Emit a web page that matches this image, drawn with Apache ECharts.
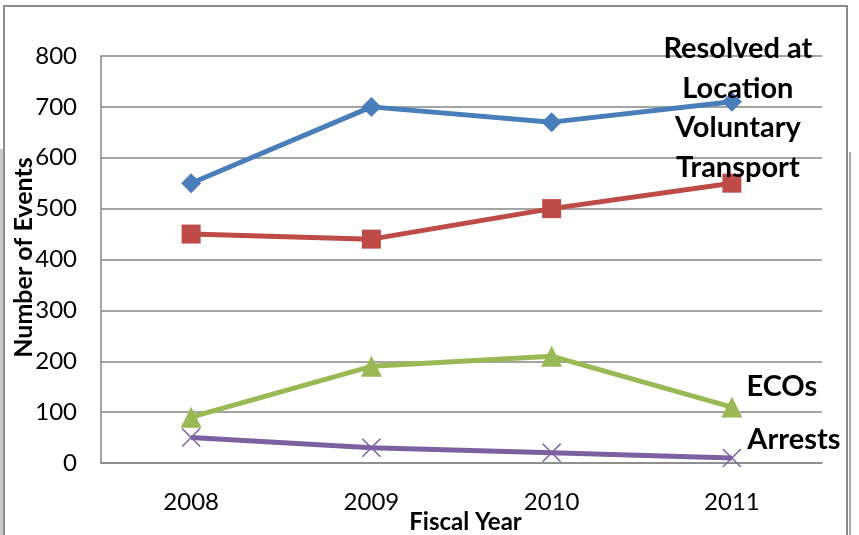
<!DOCTYPE html>
<html>
<head>
<meta charset="utf-8">
<script src="https://cdn.jsdelivr.net/npm/echarts@6/dist/echarts.min.js"></script>
<style>
html,body{margin:0;padding:0;background:#fff;}
#main{width:859px;height:535px;}
</style>
</head>
<body>
<div id="main"></div>
<script>
const categories = ['2008', '2009', '2010', '2011'];
const resolvedAtLocation = [550, 700, 670, 710];
const voluntaryTransport = [450, 440, 500, 550];
const ecos = [90, 190, 210, 110];
const arrests = [50, 30, 20, 10];
const seriesNames = ['Resolved at\nLocation', 'Voluntary\nTransport', 'ECOs', 'Arrests'];
const yTicks = [0, 100, 200, 300, 400, 500, 600, 700, 800];

const FONT = 'Lato';
const labelStyle = {fontFamily: FONT, fontWeight: 'bold', fontSize: 29, color: '#000', lineHeight: 40, align: 'center', verticalAlign: 'middle'};

function withEndLabel(values, text, offset) {
  return values.map((v, i) => {
    if (i !== values.length - 1) return v;
    return {value: v, label: Object.assign({show: true, position: 'inside', offset: offset, formatter: text}, labelStyle)};
  });
}

const chart = echarts.init(document.getElementById('main'), null, {renderer: 'canvas'});
chart.setOption({
  animation: false,
  backgroundColor: '#fff',
  graphic: [
    {type: 'rect', shape: {x: 0, y: 149, width: 4, height: 400}, style: {fill: '#c8c8c8'}, z: 0},
    {type: 'rect', shape: {x: 4, y: 6, width: 843, height: 560}, style: {fill: 'none', stroke: '#8c8c8c', lineWidth: 2}, z: 0},
    {type: 'line', shape: {x1: 850, y1: 152, x2: 850, y2: 540}, style: {stroke: '#a8a8a8', lineWidth: 2}, z: 0}
  ],
  grid: {left: 101, right: 37, top: 56, bottom: 72, containLabel: false, outerBoundsMode: 'none'},
  xAxis: {
    type: 'category',
    data: categories,
    boundaryGap: true,
    axisLine: {show: true, lineStyle: {color: '#868686', width: 1.5}},
    axisTick: {show: false},
    axisLabel: {fontFamily: FONT, fontSize: 24, color: '#000', margin: 27},
    name: 'Fiscal Year',
    nameLocation: 'middle',
    nameGap: 47,
    nameMoveOverlap: false,
    nameTextStyle: {fontFamily: FONT, fontWeight: 'bold', fontSize: 24, color: '#000', padding: [0, 0, 0, 8]}
  },
  yAxis: {
    type: 'value',
    min: yTicks[0],
    max: yTicks[yTicks.length - 1],
    interval: 100,
    axisLine: {show: true, lineStyle: {color: '#868686', width: 1.5}},
    axisTick: {show: false},
    splitLine: {show: true, lineStyle: {color: '#868686', width: 1.5}},
    axisLabel: {fontFamily: FONT, fontSize: 24, color: '#000', margin: 24},
    name: 'Number of Events',
    nameLocation: 'middle',
    nameGap: 65,
    nameMoveOverlap: false,
    nameRotate: 90,
    nameTextStyle: {fontFamily: FONT, fontWeight: 'bold', fontSize: 25, color: '#000', padding: [0, 0, 0, 4]}
  },
  series: [
    {
      type: 'line', name: seriesNames[0],
      data: withEndLabel(resolvedAtLocation, seriesNames[0], [6, -33]),
      symbol: 'diamond', symbolSize: 20,
      lineStyle: {color: '#4a7ebb', width: 5},
      itemStyle: {color: '#4a7ebb'},
      label: {show: false}
    },
    {
      type: 'line', name: seriesNames[1],
      data: withEndLabel(voluntaryTransport, seriesNames[1], [6, -36]),
      symbol: 'rect', symbolSize: 19,
      lineStyle: {color: '#be4b48', width: 5},
      itemStyle: {color: '#be4b48'},
      label: {show: false}
    },
    {
      type: 'line', name: seriesNames[2],
      data: withEndLabel(ecos, seriesNames[2], [50, -20]),
      symbol: 'triangle', symbolSize: 21,
      lineStyle: {color: '#98b954', width: 5},
      itemStyle: {color: '#98b954'},
      label: {show: false}
    },
    {
      type: 'line', name: seriesNames[3],
      data: withEndLabel(arrests, seriesNames[3], [62, -18]),
      symbol: 'path://M0,0L10,10M10,0L0,10', symbolSize: 18,
      lineStyle: {color: '#7d60a0', width: 5},
      itemStyle: {color: '#7d60a0', borderColor: '#7d60a0', borderWidth: 1.5},
      label: {show: false}
    }
  ]
});
</script>
</body>
</html>
